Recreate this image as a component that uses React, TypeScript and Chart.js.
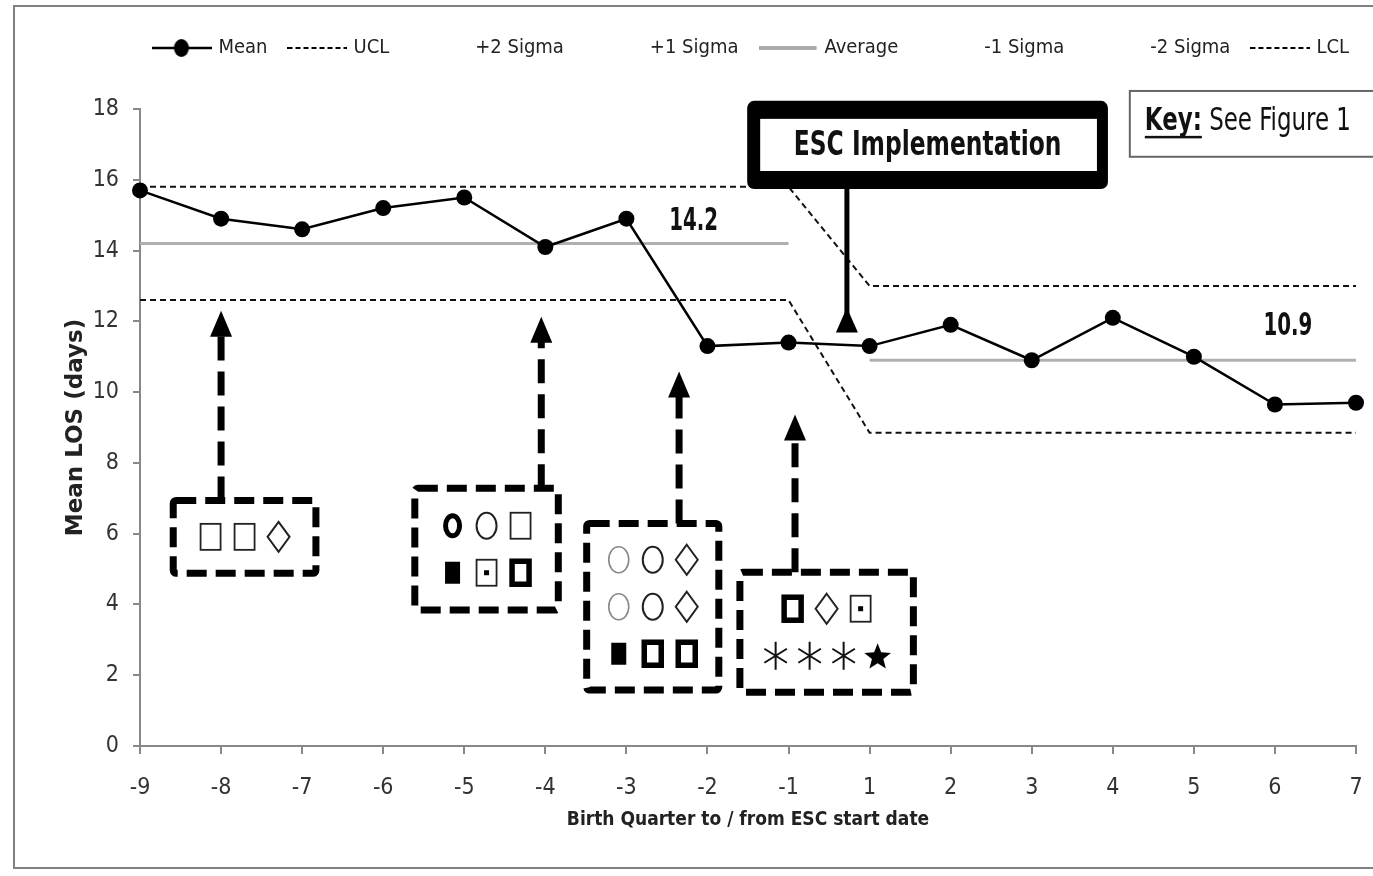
import React, { useEffect, useRef } from 'react';
import { Chart, registerables } from 'chart.js';

Chart.register(...registerables);

// ---------- data ----------
const categories = ['-9', '-8', '-7', '-6', '-5', '-4', '-3', '-2', '-1', '1', '2', '3', '4', '5', '6', '7'];
const meanLOS = [15.7, 14.9, 14.6, 15.2, 15.5, 14.1, 14.9, 11.3, 11.4, 11.3, 11.9, 10.9, 12.1, 11.0, 9.65, 9.7];
const ucl = [15.8, 15.8, 15.8, 15.8, 15.8, 15.8, 15.8, 15.8, 15.8, 13.0, 13.0, 13.0, 13.0, 13.0, 13.0, 13.0];
const lcl = [12.6, 12.6, 12.6, 12.6, 12.6, 12.6, 12.6, 12.6, 12.6, 8.85, 8.85, 8.85, 8.85, 8.85, 8.85, 8.85];
const averagePre = [14.2, 14.2, 14.2, 14.2, 14.2, 14.2, 14.2, 14.2, 14.2, null, null, null, null, null, null, null];
const averagePost = [null, null, null, null, null, null, null, null, null, 10.9, 10.9, 10.9, 10.9, 10.9, 10.9, 10.9];
const emptySeries = categories.map(() => null);
const yTicks = [0, 2, 4, 6, 8, 10, 12, 14, 16, 18];

// ---------- annotation layout (in data units: x = category index, y = value) ----------
const calloutBoxes = [
  { arrowX: 1.0, arrowTip: 12.3, left: 0.41, right: 2.17, top: 6.94, bottom: 4.88, rows: [['sq', 'sq', 'dia']] },
  { arrowX: 4.95, arrowTip: 12.13, left: 3.39, right: 5.16, top: 7.28, bottom: 3.84, rows: [['circThick', 'circ', 'sq'], ['sqFill', 'sqDot', 'sqThick']] },
  { arrowX: 6.65, arrowTip: 10.58, left: 5.51, right: 7.14, top: 6.29, bottom: 1.58, rows: [['circGray', 'circ', 'dia'], ['circGray', 'circ', 'dia'], ['sqFill', 'sqThick', 'sqThick']] },
  { arrowX: 8.08, arrowTip: 9.37, left: 7.40, right: 9.54, top: 4.91, bottom: 1.52, rows: [['sqThick', 'dia', 'sqDot'], ['ast', 'ast', 'ast', 'star']] },
];
const escCallout = { left: 7.49, right: 11.94, top: 18.23, bottom: 15.74, arrowX: 8.72, arrowTip: 12.39, text: 'ESC Implementation' };
const keyBox = { left: 12.21, top: 18.51, bottom: 16.65, bold: 'Key:', text: ' See Figure 1' };
const averageLabels = [
  { x: 6.83, y: 14.81, series: averagePre },
  { x: 14.16, y: 11.85, series: averagePost },
];

const NARROW = '"DejaVu Sans Condensed", "Liberation Sans Narrow", sans-serif';

function makeLegendIcon(kind: string): HTMLCanvasElement {
  const c = document.createElement('canvas');
  c.width = 60;
  c.height = 22;
  const g = c.getContext('2d')!;
  g.lineCap = 'butt';
  if (kind === 'mean') {
    g.strokeStyle = '#000';
    g.lineWidth = 2.5;
    g.beginPath(); g.moveTo(0, 11); g.lineTo(60, 11); g.stroke();
    g.fillStyle = '#000';
    g.beginPath(); g.ellipse(29, 11, 7.5, 9, 0, 0, Math.PI * 2); g.fill();
  } else if (kind === 'dash') {
    g.strokeStyle = '#000';
    g.lineWidth = 2;
    g.setLineDash([5, 3]);
    g.beginPath(); g.moveTo(0, 11); g.lineTo(60, 11); g.stroke();
  } else if (kind === 'avg') {
    g.strokeStyle = '#aaaaaa';
    g.lineWidth = 4;
    g.beginPath(); g.moveTo(0, 11); g.lineTo(58, 11); g.stroke();
  }
  return c;
}

function drawSymbol(ctx: CanvasRenderingContext2D, kind: string, cx: number, cy: number) {
  ctx.save();
  ctx.setLineDash([]);
  ctx.strokeStyle = '#222';
  ctx.fillStyle = '#000';
  ctx.lineJoin = 'miter';
  switch (kind) {
    case 'sq':
      ctx.lineWidth = 1.8;
      ctx.strokeRect(cx - 10, cy - 13, 20, 26);
      break;
    case 'sqDot':
      ctx.lineWidth = 1.8;
      ctx.strokeRect(cx - 10, cy - 13, 20, 26);
      ctx.fillRect(cx - 2.5, cy - 2.5, 5, 5);
      break;
    case 'sqThick':
      ctx.strokeStyle = '#000';
      ctx.lineWidth = 5.5;
      ctx.strokeRect(cx - 8.5, cy - 11.5, 17, 23);
      break;
    case 'sqFill':
      ctx.fillRect(cx - 7.5, cy - 11, 15, 22);
      break;
    case 'dia':
      ctx.lineWidth = 2;
      ctx.beginPath();
      ctx.moveTo(cx, cy - 15); ctx.lineTo(cx + 11, cy); ctx.lineTo(cx, cy + 15); ctx.lineTo(cx - 11, cy); ctx.closePath();
      ctx.stroke();
      break;
    case 'circThick':
      ctx.strokeStyle = '#000';
      ctx.lineWidth = 5;
      ctx.beginPath(); ctx.ellipse(cx, cy, 7, 10, 0, 0, Math.PI * 2); ctx.stroke();
      break;
    case 'circ':
      ctx.lineWidth = 2;
      ctx.beginPath(); ctx.ellipse(cx, cy, 10, 13, 0, 0, Math.PI * 2); ctx.stroke();
      break;
    case 'circGray':
      ctx.strokeStyle = '#888';
      ctx.lineWidth = 1.6;
      ctx.beginPath(); ctx.ellipse(cx, cy, 10, 13, 0, 0, Math.PI * 2); ctx.stroke();
      break;
    case 'ast': {
      ctx.lineWidth = 2;
      ctx.strokeStyle = '#111';
      ctx.beginPath();
      for (let k = 0; k < 3; k++) {
        const a = Math.PI / 2 + (k * Math.PI) / 3;
        ctx.moveTo(cx + Math.cos(a) * 13, cy - Math.sin(a) * 14);
        ctx.lineTo(cx - Math.cos(a) * 13, cy + Math.sin(a) * 14);
      }
      ctx.stroke();
      break;
    }
    case 'star': {
      ctx.beginPath();
      for (let k = 0; k < 10; k++) {
        const r = k % 2 === 0 ? 14 : 6;
        const a = -Math.PI / 2 + (k * Math.PI) / 5;
        const x = cx + Math.cos(a) * r;
        const y = cy + 1.5 + Math.sin(a) * r;
        if (k === 0) ctx.moveTo(x, y); else ctx.lineTo(x, y);
      }
      ctx.closePath();
      ctx.fill();
      break;
    }
  }
  ctx.restore();
}

function drawStretchedText(ctx: CanvasRenderingContext2D, text: string, x: number, y: number, font: string, sy: number, align: CanvasTextAlign) {
  ctx.save();
  ctx.translate(x, y);
  ctx.scale(1, sy);
  ctx.font = font;
  ctx.textAlign = align;
  ctx.textBaseline = 'middle';
  ctx.fillStyle = '#111';
  ctx.fillText(text, 0, 0);
  ctx.restore();
}

function drawArrowHead(ctx: CanvasRenderingContext2D, x: number, tipY: number, w: number, h: number) {
  ctx.beginPath();
  ctx.moveTo(x, tipY);
  ctx.lineTo(x + w / 2, tipY + h);
  ctx.lineTo(x - w / 2, tipY + h);
  ctx.closePath();
  ctx.fill();
}

const annotationPlugin = {
  id: 'escAnnotations',
  beforeDraw(chart: any) {
    const ctx: CanvasRenderingContext2D = chart.ctx;
    ctx.save();
    ctx.strokeStyle = '#808080';
    ctx.lineWidth = 2;
    ctx.beginPath();
    ctx.moveTo(chart.width + 5, 6);
    ctx.lineTo(14, 6);
    ctx.lineTo(14, 868);
    ctx.lineTo(chart.width + 5, 868);
    ctx.stroke();
    ctx.restore();
  },
  afterDatasetsDraw(chart: any) {
    const ctx: CanvasRenderingContext2D = chart.ctx;
    const xs = chart.scales.x;
    const ys = chart.scales.y;
    const px = (v: number) => xs.getPixelForValue(v);
    const py = (v: number) => ys.getPixelForValue(v);

    ctx.save();
    ctx.fillStyle = '#000';
    ctx.strokeStyle = '#000';

    // dashed callout boxes with arrows
    calloutBoxes.forEach((b) => {
      const x0 = px(b.left), x1 = px(b.right), y0 = py(b.top), y1 = py(b.bottom);
      const ax = px(b.arrowX), tip = py(b.arrowTip);
      ctx.save();
      ctx.lineWidth = 7;
      ctx.strokeStyle = '#000';
      ctx.setLineDash([20, 9]);
      ctx.beginPath();
      ctx.roundRect(x0, y0, x1 - x0, y1 - y0, 3);
      ctx.stroke();
      ctx.setLineDash([24, 11]);
      ctx.beginPath();
      ctx.moveTo(ax, y0);
      ctx.lineTo(ax, tip + 24);
      ctx.stroke();
      ctx.setLineDash([]);
      drawArrowHead(ctx, ax, tip, 22, 26);
      ctx.restore();

      const cx = (x0 + x1) / 2, cy = (y0 + y1) / 2;
      const rowGap = 47, colGap = 34;
      b.rows.forEach((row, ri) => {
        const yy = cy + (ri - (b.rows.length - 1) / 2) * rowGap;
        row.forEach((sym, ci) => {
          const xx = cx + (ci - (row.length - 1) / 2) * colGap;
          drawSymbol(ctx, sym, xx, yy);
        });
      });
    });

    // ESC implementation box
    {
      const x0 = px(escCallout.left), x1 = px(escCallout.right), y0 = py(escCallout.top), y1 = py(escCallout.bottom);
      ctx.fillStyle = '#000';
      ctx.beginPath();
      ctx.roundRect(x0, y0, x1 - x0, y1 - y0, 7);
      ctx.fill();
      ctx.fillStyle = '#fff';
      ctx.fillRect(x0 + 13, y0 + 18, x1 - x0 - 24, y1 - y0 - 36);
      drawStretchedText(ctx, escCallout.text, (x0 + x1) / 2, (y0 + y1) / 2 + 1, `bold 26px ${NARROW}`, 1.3, 'center');
      const ax = px(escCallout.arrowX), tip = py(escCallout.arrowTip);
      ctx.strokeStyle = '#000';
      ctx.fillStyle = '#000';
      ctx.lineWidth = 5;
      ctx.beginPath();
      ctx.moveTo(ax, y1);
      ctx.lineTo(ax, tip + 22);
      ctx.stroke();
      drawArrowHead(ctx, ax, tip, 22, 25);
    }

    // Key box
    {
      const x0 = px(keyBox.left), y0 = py(keyBox.top), y1 = py(keyBox.bottom);
      ctx.strokeStyle = '#666';
      ctx.lineWidth = 2;
      ctx.strokeRect(x0, y0, chart.width + 20 - x0, y1 - y0);
      const ty = (y0 + y1) / 2 - 2;
      const tx = x0 + 15;
      const boldFont = `bold 25.5px ${NARROW}`;
      const regFont = `25.5px ${NARROW}`;
      drawStretchedText(ctx, keyBox.bold, tx, ty, boldFont, 1.25, 'left');
      ctx.font = boldFont;
      const bw = ctx.measureText(keyBox.bold).width;
      ctx.fillStyle = '#111';
      ctx.fillRect(tx, ty + 14, bw, 2.5);
      drawStretchedText(ctx, keyBox.text, tx + bw, ty, regFont, 1.25, 'left');
    }

    // average value labels
    averageLabels.forEach((l) => {
      const v = l.series.find((d) => d !== null) as number;
      drawStretchedText(ctx, v.toFixed(1), px(l.x), py(l.y), `bold 22px ${NARROW}`, 1.45, 'center');
    });

    ctx.restore();
  },
};

export default function App() {
  const canvasRef = useRef<HTMLCanvasElement | null>(null);

  useEffect(() => {
    document.body.style.margin = '0';
    const icons: Record<string, HTMLCanvasElement> = {
      mean: makeLegendIcon('mean'),
      dash: makeLegendIcon('dash'),
      avg: makeLegendIcon('avg'),
      none: makeLegendIcon('none'),
    };
    const seriesLine = (label: string, data: (number | null)[], color: string, width: number, dash: number[], icon: string, legend = true) => ({
      label,
      data,
      borderColor: color,
      backgroundColor: color,
      borderWidth: width,
      borderDash: dash,
      pointRadius: 0,
      pointHoverRadius: 0,
      spanGaps: false,
      tension: 0,
      icon,
      inLegend: legend,
    });

    const chart = new Chart(canvasRef.current!, {
      type: 'line',
      data: {
        labels: categories,
        datasets: [
          {
            label: 'Mean',
            data: meanLOS,
            borderColor: '#000',
            backgroundColor: '#000',
            borderWidth: 2.5,
            pointRadius: 8,
            pointHoverRadius: 8,
            pointBorderWidth: 0,
            pointBackgroundColor: '#000',
            tension: 0,
            icon: 'mean',
            inLegend: true,
          } as any,
          seriesLine('UCL', ucl, '#111', 2, [6, 4], 'dash'),
          seriesLine('+2 Sigma', emptySeries, 'rgba(0,0,0,0)', 0, [], 'none'),
          seriesLine('+1 Sigma', emptySeries, 'rgba(0,0,0,0)', 0, [], 'none'),
          seriesLine('Average', averagePre, '#b0b0b0', 3, [], 'avg'),
          seriesLine('-1 Sigma', emptySeries, 'rgba(0,0,0,0)', 0, [], 'none'),
          seriesLine('-2 Sigma', emptySeries, 'rgba(0,0,0,0)', 0, [], 'none'),
          seriesLine('LCL', lcl, '#111', 2, [6, 4], 'dash'),
          seriesLine('Average', averagePost, '#b0b0b0', 3, [], 'avg', false),
        ] as any,
      },
      options: {
        animation: false,
        responsive: false,
        devicePixelRatio: 1,
        events: [],
        layout: { padding: { left: 20, right: 0, top: 14, bottom: 10 } },
        plugins: {
          tooltip: { enabled: false },
          legend: {
            display: true,
            position: 'top',
            align: 'end',
            labels: {
              usePointStyle: true,
              pointStyleWidth: 52,
              boxHeight: 20,
              padding: 24,
              color: '#222',
              font: { family: NARROW, size: 20 },
              generateLabels: (ch: any) =>
                ch.data.datasets
                  .map((ds: any, i: number) => ({
                    text: ds.label,
                    pointStyle: icons[ds.icon],
                    fillStyle: 'rgba(0,0,0,0)',
                    strokeStyle: 'rgba(0,0,0,0)',
                    lineWidth: 0,
                    hidden: false,
                    datasetIndex: i,
                    fontColor: '#222',
                    inLegend: ds.inLegend,
                  }))
                  .filter((it: any) => it.inLegend),
            },
          },
          subtitle: {
            display: true,
            text: '',
            position: 'top',
            weight: 500,
            font: { size: 10, lineHeight: 1 },
            padding: { top: 0, bottom: 31 },
          } as any,
        },
        scales: {
          x: {
            type: 'category',
            offset: false,
            grid: { display: true, drawOnChartArea: false, drawTicks: true, tickLength: 8, color: '#888', lineWidth: 2 },
            border: { display: true, color: '#888', width: 2 },
            ticks: { autoSkip: false, maxRotation: 0, color: '#333', font: { family: NARROW, size: 23 }, padding: 20 },
            title: {
              display: true,
              text: 'Birth Quarter to / from ESC start date',
              color: '#222',
              font: { family: NARROW, size: 19, weight: 'bold' },
              padding: { top: 0, bottom: 35 },
            },
            afterFit: (s: any) => {
              s.height = 120;
              s.paddingRight = 17;
            },
          },
          y: {
            type: 'linear',
            min: 0,
            max: 18,
            afterBuildTicks: (s: any) => {
              s.ticks = yTicks.map((v) => ({ value: v }));
            },
            grid: { display: true, drawOnChartArea: false, drawTicks: true, tickLength: 7, color: '#888', lineWidth: 2 },
            border: { display: true, color: '#888', width: 2 },
            ticks: { color: '#333', font: { family: NARROW, size: 23 }, padding: 14 },
            title: {
              display: true,
              text: 'Mean LOS (days)',
              color: '#222',
              font: { family: '"DejaVu Sans", sans-serif', size: 23, weight: 'bold' },
              padding: { top: 42, bottom: 0 },
            },
            afterFit: (s: any) => {
              s.width = 120;
            },
          },
        },
      } as any,
      plugins: [annotationPlugin],
    });

    return () => {
      chart.destroy();
    };
  }, []);

  return (
    <div style={{ width: 1373, height: 876, position: 'relative', background: '#fff' }}>
      <canvas ref={canvasRef} width={1373} height={876} />
    </div>
  );
}
